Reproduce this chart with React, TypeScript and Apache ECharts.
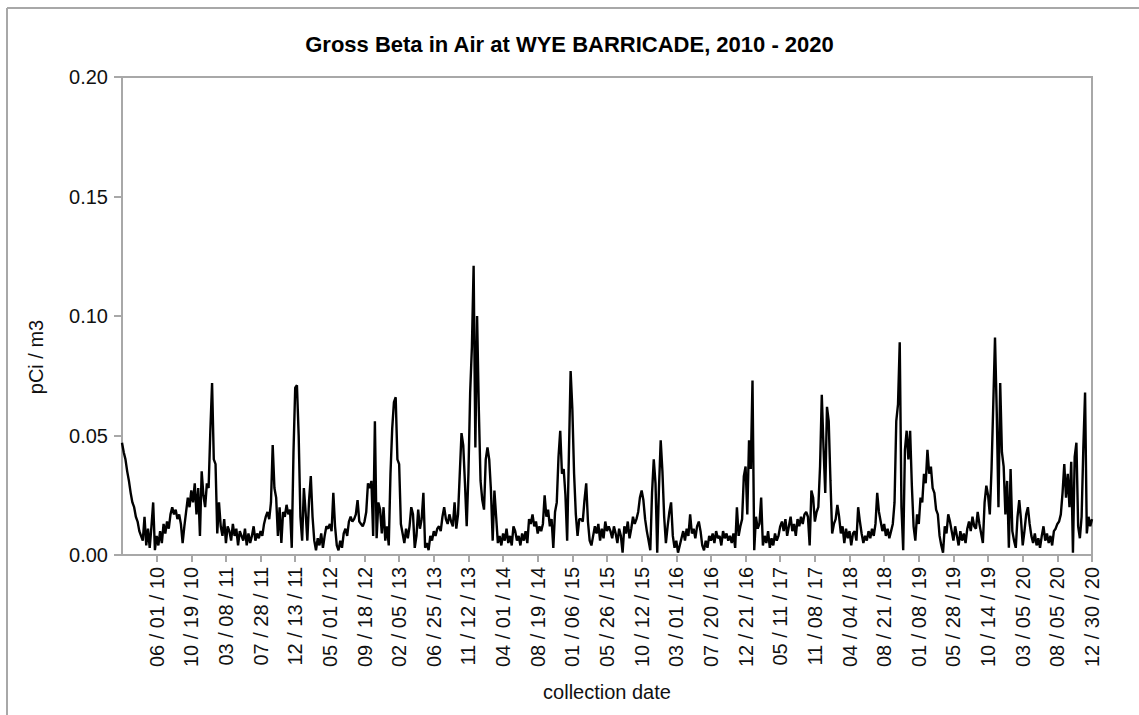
import React, { useEffect, useRef } from "react";
import * as echarts from "echarts";

const titleText = "Gross Beta in Air at WYE BARRICADE, 2010 - 2020";
const xAxisName = "collection date";
const yAxisName = "pCi / m3";

// Visible tick labels (every 20th collection)
const tickLabels = [
  "06 / 01 / 10", "10 / 19 / 10", "03 / 08 / 11", "07 / 28 / 11", "12 / 13 / 11",
  "05 / 01 / 12", "09 / 18 / 12", "02 / 05 / 13", "06 / 25 / 13", "11 / 12 / 13",
  "04 / 01 / 14", "08 / 19 / 14", "01 / 06 / 15", "05 / 26 / 15", "10 / 12 / 15",
  "03 / 01 / 16", "07 / 20 / 16", "12 / 21 / 16", "05 / 11 / 17", "11 / 08 / 17",
  "04 / 04 / 18", "08 / 21 / 18", "01 / 08 / 19", "05 / 28 / 19", "10 / 14 / 19",
  "03 / 05 / 20", "08 / 05 / 20", "12 / 30 / 20",
];

// Gross beta, pCi/m3, per collection
const values2010 = [
  0.047, 0.043, 0.040, 0.035, 0.031, 0.026, 0.022, 0.020, 0.016, 0.014,
  0.010, 0.008, 0.006, 0.016, 0.004, 0.011, 0.003, 0.012, 0.022, 0.002,
  0.008, 0.004, 0.010, 0.005, 0.013, 0.009, 0.014, 0.011, 0.017, 0.020,
  0.017, 0.019, 0.015, 0.017, 0.013, 0.005, 0.012, 0.018, 0.024, 0.020,
  0.027, 0.022, 0.030, 0.017, 0.028, 0.008, 0.035, 0.025, 0.020, 0.030,
  0.028, 0.052, 0.072, 0.040, 0.038, 0.009, 0.022, 0.012, 0.008, 0.015,
  0.005, 0.012, 0.010, 0.006, 0.013, 0.008, 0.011, 0.004, 0.010, 0.008,
];
const values2011 = [
  0.006, 0.011, 0.004, 0.009, 0.005, 0.008, 0.012, 0.006, 0.009, 0.007,
  0.010, 0.008, 0.013, 0.016, 0.018, 0.015, 0.022, 0.046, 0.028, 0.024,
  0.008, 0.020, 0.005, 0.018, 0.016, 0.021, 0.017, 0.019, 0.003, 0.043,
  0.070, 0.071, 0.050, 0.016, 0.006, 0.028, 0.018, 0.006, 0.023, 0.033,
  0.016, 0.006, 0.002, 0.007, 0.004, 0.009, 0.003, 0.008, 0.012, 0.011,
  0.013, 0.010, 0.026, 0.012, 0.004, 0.002, 0.006, 0.003, 0.009, 0.011,
  0.008, 0.014, 0.016, 0.014, 0.015, 0.017, 0.023, 0.014, 0.013, 0.012,
  0.014,
];
const values2012 = [
  0.018, 0.030, 0.028, 0.031, 0.008, 0.056, 0.007, 0.022, 0.019, 0.009,
  0.020, 0.006, 0.012, 0.004, 0.034, 0.053, 0.064, 0.066, 0.040, 0.038,
  0.013, 0.009, 0.005, 0.011, 0.007, 0.012, 0.020, 0.017, 0.003, 0.008,
  0.019, 0.011, 0.015, 0.026, 0.003, 0.005, 0.002, 0.008, 0.006, 0.010,
  0.008, 0.011, 0.012, 0.010, 0.016, 0.020, 0.015, 0.013, 0.017, 0.014,
  0.012, 0.022, 0.011, 0.017, 0.034, 0.051, 0.046, 0.030, 0.012, 0.034,
  0.068, 0.087, 0.121, 0.045, 0.100, 0.061, 0.031, 0.023, 0.019, 0.040,
];
const values2014 = [
  0.045, 0.040, 0.027, 0.006, 0.027, 0.016, 0.005, 0.008, 0.004, 0.009,
  0.006, 0.011, 0.005, 0.008, 0.004, 0.012, 0.010, 0.006, 0.008, 0.004,
  0.009, 0.006, 0.010, 0.005, 0.015, 0.013, 0.017, 0.012, 0.014, 0.009,
  0.012, 0.010, 0.013, 0.025, 0.016, 0.019, 0.012, 0.015, 0.003, 0.018,
  0.022, 0.041, 0.052, 0.034, 0.036, 0.025, 0.006, 0.042, 0.077, 0.061,
  0.034, 0.017, 0.008, 0.015, 0.015, 0.014, 0.023, 0.030, 0.014, 0.006,
  0.004, 0.008, 0.012, 0.009, 0.013, 0.006, 0.011, 0.007, 0.014, 0.010,
  0.012,
];
const values2015 = [
  0.010, 0.007, 0.012, 0.009, 0.005, 0.011, 0.008, 0.001, 0.012, 0.009,
  0.014, 0.007, 0.011, 0.016, 0.013, 0.015, 0.018, 0.024, 0.027, 0.023,
  0.015, 0.010, 0.006, 0.002, 0.026, 0.040, 0.030, 0.001, 0.028, 0.048,
  0.035, 0.016, 0.005, 0.012, 0.018, 0.022, 0.008, 0.003, 0.006, 0.001,
  0.004, 0.007, 0.010, 0.006, 0.011, 0.008, 0.017, 0.009, 0.011, 0.007,
  0.012, 0.014, 0.010, 0.004, 0.002, 0.006, 0.003, 0.008, 0.006, 0.009,
  0.005, 0.010, 0.007, 0.008, 0.004, 0.010, 0.007, 0.009, 0.006, 0.008,
];
const values2016 = [
  0.005, 0.009, 0.003, 0.020, 0.008, 0.012, 0.015, 0.033, 0.037, 0.017,
  0.048, 0.036, 0.073, 0.002, 0.016, 0.011, 0.013, 0.024, 0.004, 0.008,
  0.005, 0.010, 0.003, 0.007, 0.004, 0.009, 0.006, 0.008, 0.012, 0.014,
  0.010, 0.015, 0.008, 0.012, 0.016, 0.010, 0.013, 0.008, 0.015, 0.012,
  0.016, 0.013, 0.017, 0.018, 0.016, 0.004, 0.027, 0.024, 0.014, 0.018,
  0.020, 0.037, 0.067, 0.045, 0.026, 0.062, 0.056, 0.031, 0.009, 0.013,
  0.015, 0.021, 0.016, 0.009, 0.012, 0.005, 0.011, 0.007, 0.010, 0.004,
  0.009,
];
const values2018 = [
  0.010, 0.006, 0.020, 0.014, 0.009, 0.005, 0.008, 0.006, 0.010, 0.007,
  0.011, 0.008, 0.013, 0.026, 0.018, 0.014, 0.010, 0.013, 0.008, 0.011,
  0.007, 0.010, 0.013, 0.022, 0.056, 0.063, 0.089, 0.020, 0.002, 0.044,
  0.052, 0.040, 0.052, 0.029, 0.012, 0.006, 0.017, 0.013, 0.024, 0.022,
  0.034, 0.030, 0.044, 0.034, 0.037, 0.028, 0.026, 0.019, 0.017, 0.008,
  0.004, 0.001, 0.012, 0.009, 0.017, 0.014, 0.010, 0.006, 0.012, 0.008,
  0.004, 0.010, 0.006, 0.009, 0.005, 0.011, 0.014, 0.010, 0.016, 0.012,
];
const values2019 = [
  0.011, 0.018, 0.013, 0.009, 0.005, 0.022, 0.029, 0.025, 0.017, 0.036,
  0.063, 0.091, 0.060, 0.020, 0.072, 0.043, 0.037, 0.017, 0.031, 0.003,
  0.036, 0.010, 0.006, 0.003, 0.016, 0.023, 0.015, 0.004, 0.010, 0.017,
  0.020, 0.013, 0.008, 0.005, 0.009, 0.004, 0.007, 0.003, 0.008, 0.012,
  0.006, 0.009, 0.005, 0.008, 0.004, 0.010, 0.011, 0.013, 0.014, 0.017,
  0.026, 0.038, 0.024, 0.034, 0.020, 0.039, 0.001, 0.041, 0.047, 0.012,
  0.007, 0.016, 0.045, 0.068, 0.009, 0.016, 0.012, 0.015,
];

const values = [
  ...values2010, ...values2011, ...values2012, ...values2014,
  ...values2015, ...values2016, ...values2018, ...values2019,
];

const FONT = "'Liberation Sans', Arial, sans-serif";
const GRAY = "#a8a8a8";

export default function App() {
  const ref = useRef<HTMLDivElement>(null);
  useEffect(() => {
    document.body.style.margin = "0";
    if (!ref.current) return;
    const chart = echarts.init(ref.current, null, { renderer: "svg" });
    const categories = values.map((_, i) =>
      i % 20 === 0 && i > 0 ? tickLabels[i / 20 - 1] : String(i)
    );
    const showAt = (i: number) => i % 20 === 0 && i > 0;
    chart.setOption({
      animation: false,
      backgroundColor: "#ffffff",
      title: {
        text: titleText,
        left: "center",
        top: 28,
        textStyle: { fontFamily: FONT, fontSize: 22, fontWeight: "bold", color: "#000" },
      },
      grid: {
        left: 122, top: 77, right: 47, bottom: 160,
        show: true, borderColor: GRAY, borderWidth: 2, backgroundColor: "transparent",
      },
      xAxis: {
        type: "category",
        data: categories,
        boundaryGap: false,
        name: xAxisName,
        nameLocation: "middle",
        nameGap: 127,
        nameTextStyle: { fontFamily: FONT, fontSize: 20, color: "#111" },
        axisLine: { show: false },
        axisTick: { show: true, interval: showAt, length: 7, lineStyle: { color: GRAY, width: 2 } },
        axisLabel: { interval: showAt, rotate: 90, margin: 12, fontFamily: FONT, fontSize: 20, color: "#111" },
        splitLine: { show: false },
      },
      yAxis: {
        type: "value",
        min: 0, max: 0.2, interval: 0.05,
        axisLine: { show: false },
        axisTick: { show: true, length: 8, lineStyle: { color: GRAY, width: 2 } },
        axisLabel: { margin: 14, fontFamily: FONT, fontSize: 20, color: "#111", formatter: (v: number) => v.toFixed(2) },
        splitLine: { show: false },
      },
      series: [
        {
          type: "line",
          data: values,
          symbol: "none",
          showSymbol: false,
          lineStyle: { color: "#000", width: 2.4 },
          itemStyle: { color: "#000" },
        },
      ],
      graphic: [
        { type: "line", shape: { x1: 7, y1: 8, x2: 1139, y2: 8 }, style: { stroke: GRAY, lineWidth: 2 } },
        { type: "line", shape: { x1: 7, y1: 8, x2: 7, y2: 715 }, style: { stroke: GRAY, lineWidth: 2 } },
        {
          type: "text",
          x: 36,
          y: 357,
          rotation: Math.PI / 2,
          style: {
            text: yAxisName,
            fontFamily: FONT,
            fontSize: 20,
            fill: "#111",
            textAlign: "center",
            textVerticalAlign: "middle",
          },
        },
      ],
    });
    return () => chart.dispose();
  }, []);
  return <div ref={ref} style={{ width: 1139, height: 715 }} />;
}
